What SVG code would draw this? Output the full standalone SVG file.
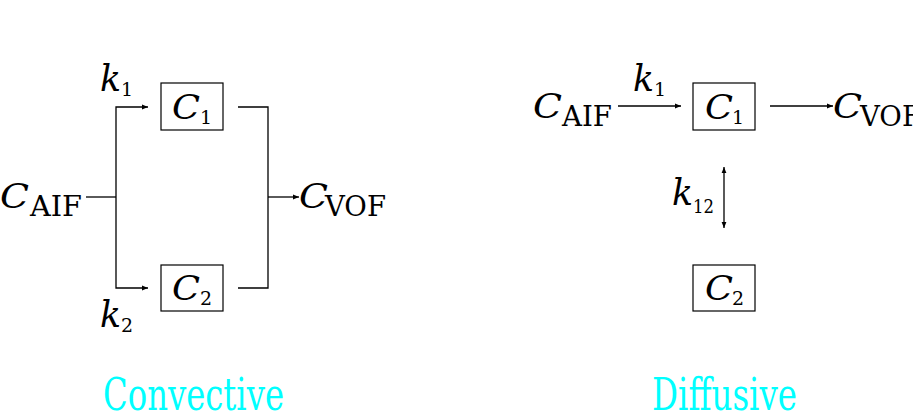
<svg xmlns="http://www.w3.org/2000/svg" width="913" height="413" viewBox="0 0 913 413">
<defs>
<style>
text{font-family:'DejaVu Serif','Liberation Serif',serif}
.m{font-style:italic;font-size:34px;fill:#000}
.k{font-style:italic;font-size:37px;fill:#000}
.r{font-size:28px;fill:#000}
.d{font-size:19px;fill:#000}
.lab{font-size:45px;fill:#00FFFF}
.box{fill:none;stroke:#000;stroke-width:1.2}
.c{fill:none;stroke:#000;stroke-width:1.3}
</style>
<marker id="ah" viewBox="0 0 10 10" refX="10" refY="5" markerWidth="7" markerHeight="6" markerUnits="userSpaceOnUse" orient="auto-start-reverse">
<path d="M0,1 L10,5 L0,9 Z" fill="#000"/>
</marker>
</defs>
<rect width="913" height="413" fill="#fff"/>
<g id="connectors">
<path class="c" d="M86,197 H116"/>
<path class="c" d="M116,197 V107 H148" marker-end="url(#ah)"/>
<path class="c" d="M116,197 V288 H148" marker-end="url(#ah)"/>
<path class="c" d="M238,107 H268 V288 H238"/>
<path class="c" d="M268,197 H299" marker-end="url(#ah)"/>
<path class="c" d="M618,106 H681" marker-end="url(#ah)"/>
<path class="c" d="M770,106 H833" marker-end="url(#ah)"/>
<path class="c" d="M724,167 V228" marker-start="url(#ah)" marker-end="url(#ah)"/>
</g>
<g id="conv-caif"><text class="m" x="0" y="208" textLength="29" lengthAdjust="spacingAndGlyphs">C</text><text class="r" x="30" y="216" textLength="52" lengthAdjust="spacingAndGlyphs">AIF</text></g>
<g id="conv-k1"><text class="k" x="100" y="91" textLength="21" lengthAdjust="spacingAndGlyphs">k</text><text class="d" x="121" y="96">1</text></g>
<g id="conv-k2"><text class="k" x="100" y="327" textLength="21" lengthAdjust="spacingAndGlyphs">k</text><text class="d" x="121" y="332">2</text></g>
<g id="conv-c1"><rect class="box" x="161" y="83" width="62" height="47"/><text class="m" x="172" y="119" textLength="28" lengthAdjust="spacingAndGlyphs">C</text><text class="d" x="200" y="124">1</text></g>
<g id="conv-c2"><rect class="box" x="161" y="265" width="62" height="46"/><text class="m" x="172" y="300" textLength="28" lengthAdjust="spacingAndGlyphs">C</text><text class="d" x="200" y="305">2</text></g>
<g id="conv-cvof"><text class="m" x="299" y="208" textLength="29" lengthAdjust="spacingAndGlyphs">C</text><text class="r" x="325" y="216" textLength="61" lengthAdjust="spacingAndGlyphs">VOF</text></g>
<g id="diff-caif"><text class="m" x="533" y="118" textLength="29" lengthAdjust="spacingAndGlyphs">C</text><text class="r" x="562" y="126" textLength="50" lengthAdjust="spacingAndGlyphs">AIF</text></g>
<g id="diff-k1"><text class="k" x="633" y="91" textLength="21" lengthAdjust="spacingAndGlyphs">k</text><text class="d" x="654" y="96">1</text></g>
<g id="diff-c1"><rect class="box" x="693" y="83" width="62" height="47"/><text class="m" x="705" y="119" textLength="28" lengthAdjust="spacingAndGlyphs">C</text><text class="d" x="732" y="124">1</text></g>
<g id="diff-cvof"><text class="m" x="833" y="118" textLength="29" lengthAdjust="spacingAndGlyphs">C</text><text class="r" x="860" y="126" textLength="61" lengthAdjust="spacingAndGlyphs">VOF</text></g>
<g id="diff-k12"><text class="k" x="672" y="205" textLength="21" lengthAdjust="spacingAndGlyphs">k</text><text class="d" x="693" y="213" textLength="21" lengthAdjust="spacingAndGlyphs">12</text></g>
<g id="diff-c2"><rect class="box" x="693" y="265" width="62" height="46"/><text class="m" x="705" y="300" textLength="28" lengthAdjust="spacingAndGlyphs">C</text><text class="d" x="732" y="305">2</text></g>
<g id="label-convective"><text class="lab" x="103" y="410" textLength="181" lengthAdjust="spacingAndGlyphs">Convective</text></g>
<g id="label-diffusive"><text class="lab" x="652" y="410" textLength="145" lengthAdjust="spacingAndGlyphs">Diffusive</text></g>
</svg>
